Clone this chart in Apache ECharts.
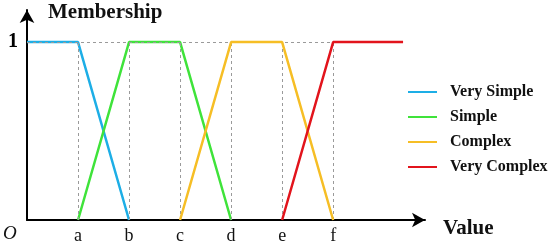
<!DOCTYPE html>
<html><head><meta charset="utf-8">
<script src="https://cdn.jsdelivr.net/npm/echarts@6/dist/echarts.min.js"></script>
<style>html,body{margin:0;padding:0;background:#fff}#c{width:550px;height:245px}</style>
</head><body><div id="c"></div>
<script>
var tickLabels = ['', 'a', 'b', 'c', 'd', 'e', 'f', ''];
var seriesNames = ['Very Simple', 'Simple', 'Complex', 'Very Complex'];
var colors = ['#1DAEE6', '#3FE33A', '#F6BE25', '#E2141C'];
var verySimple = [[0, 1], [1, 1], [2, 0]];
var simple = [[1, 0], [2, 1], [3, 1], [4, 0]];
var complex = [[3, 0], [4, 1], [5, 1], [6, 0]];
var veryComplex = [[5, 0], [6, 1], [7.37, 1]];
var guideX = [1, 2, 3, 4, 5, 6];

var serif = '"Liberation Serif", "Times New Roman", serif';
var chart = echarts.init(document.getElementById('c'), null, {renderer: 'canvas'});
var dataSets = [verySimple, simple, complex, veryComplex];
var series = dataSets.map(function (d, i) {
  return {
    name: seriesNames[i], type: 'line', data: d, symbol: 'none',
    lineStyle: {color: colors[i], width: 2.5}, itemStyle: {color: colors[i]},
    z: 3 + i
  };
});
var mlData = guideX.map(function (x) { return [{coord: [x, 0]}, {coord: [x, 1]}]; });
mlData.push([{coord: [0, 1]}, {coord: [6, 1]}]);
series.push({
  type: 'line', data: [], symbol: 'none', silent: true, z: 1,
  markLine: {symbol: 'none', silent: true, label: {show: false},
    lineStyle: {color: '#9a9a9a', type: [3, 3], width: 1}, data: mlData}
});
chart.setOption({
  animation: false,
  grid: {left: 27, top: 10, width: 398, height: 211},
  xAxis: {type: 'value', min: 0, max: 7.8, interval: 1,
    axisLine: {lineStyle: {color: '#000', width: 2}, symbol: ['none', 'arrow'], symbolSize: [11, 13]},
    axisTick: {show: false}, splitLine: {show: false},
    axisLabel: {margin: 7, color: '#111', fontFamily: serif, fontSize: 18, showMaxLabel: false,
      formatter: function (v) { return tickLabels[Math.round(v)] || ''; }}
  },
  yAxis: {type: 'value', min: 0, max: 1.18, interval: 1,
    axisLine: {show: true, lineStyle: {color: '#000', width: 2}, symbol: ['none', 'arrow'], symbolSize: [11, 13]},
    axisTick: {show: false}, splitLine: {show: false},
    axisLabel: {margin: 9, color: '#000', fontFamily: serif, fontSize: 20, fontWeight: 'bold', showMaxLabel: false,
      formatter: function (v) { return v === 1 ? '1' : ''; }}
  },
  legend: {orient: 'vertical', left: 403, top: 79, itemWidth: 29, itemHeight: 2, itemGap: 9,
    icon: 'rect', data: seriesNames,
    textStyle: {fontFamily: serif, fontSize: 16, fontWeight: 'bold', color: '#111', lineHeight: 16, padding: [0, 0, 0, 8]}
  },
  graphic: [
    {type: 'text', left: 48, top: 2, style: {text: 'Membership', font: 'bold 21px ' + serif, fill: '#111'}},
    {type: 'text', left: 443, top: 218, style: {text: 'Value', font: 'bold 21px ' + serif, fill: '#111'}},
    {type: 'text', left: 3, top: 224, style: {text: 'O', font: 'italic 19px ' + serif, fill: '#111'}}
  ],
  series: series
});
</script></body></html>
